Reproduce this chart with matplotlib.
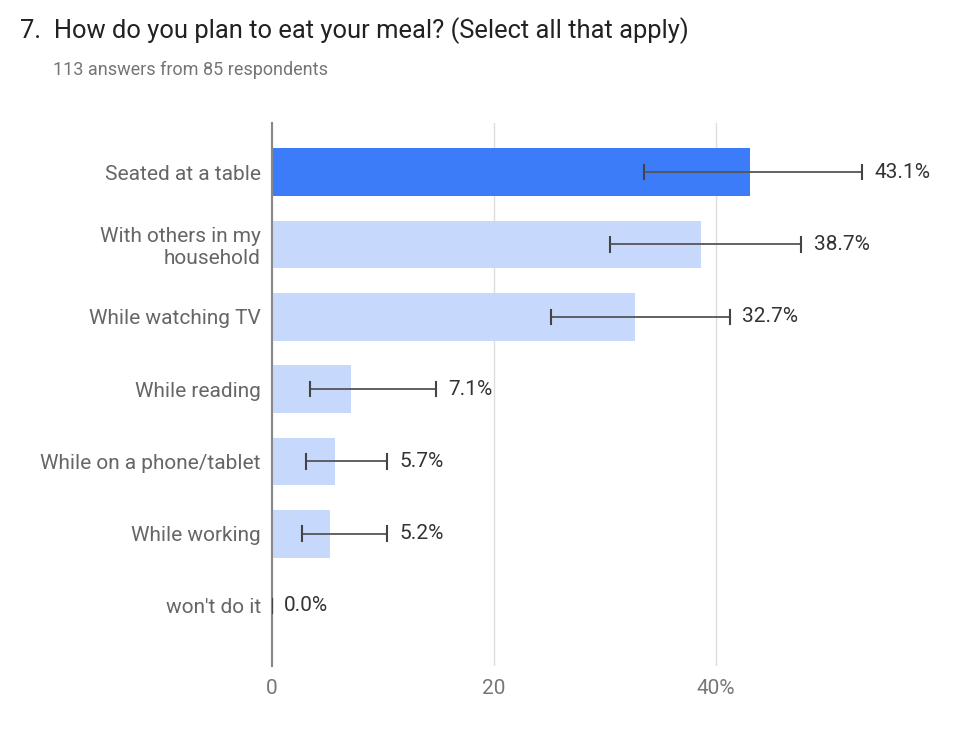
import matplotlib.pyplot as plt

# Survey data (percent of respondents)
categories = ['Seated at a table', 'With others in my\nhousehold', 'While watching TV',
              'While reading', 'While on a phone/tablet', 'While working', "won't do it"]
values = [43.1, 38.7, 32.7, 7.1, 5.7, 5.2, 0.0]
err_low = [33.5, 30.5, 25.1, 3.4, 3.1, 2.7, 0.0]
err_high = [53.2, 47.7, 41.3, 14.8, 10.4, 10.4, 0.0]
labels = ['43.1%', '38.7%', '32.7%', '7.1%', '5.7%', '5.2%', '0.0%']
xticks = [0, 20, 40]
xticklabels = ['0', '20', '40%']

plt.rcParams['font.family'] = ['Roboto', 'DejaVu Sans']

fig = plt.figure(figsize=(9.74, 7.47), dpi=100)
ax = fig.add_axes([272 / 974, 81 / 747, 668 / 974, 543 / 747])

ypos = list(range(len(categories)))
colors = ['#3d7cf9'] + ['#c6d9fc'] * (len(categories) - 1)
ax.barh(ypos, values, height=0.66, color=colors, zorder=2)

# error bars
for y, lo, hi in zip(ypos, err_low, err_high):
    ax.plot([lo, hi], [y, y], color='#555555', lw=1.3, zorder=5)
    for xx in (lo, hi):
        ax.plot([xx, xx], [y - 0.1, y + 0.1], color='#444444', lw=1.5, zorder=5)

for y, v, hi, lab in zip(ypos, values, err_high, labels):
    ax.text(max(v, hi) + 1.1, y, lab, va='center', ha='left', fontsize=15, color='#333333')

ax.set_xlim(0, 60.2)
ax.set_ylim(6.83, -0.68)
ax.set_yticks(ypos)
ax.set_yticklabels(categories, fontsize=15, color='#666666')
ax.set_xticks(xticks)
ax.set_xticklabels(xticklabels, fontsize=15, color='#777777')
ax.tick_params(axis='both', length=0)
ax.tick_params(axis='y', pad=8)
ax.tick_params(axis='x', pad=9)
ax.grid(axis='x', color='#dddddd', lw=1, zorder=0)
for s in ['top', 'right', 'bottom']:
    ax.spines[s].set_visible(False)
ax.spines['left'].set_color('#888888')
ax.spines['left'].set_linewidth(1.5)
ax.spines['left'].set_zorder(4)

fig.text(20 / 974, 1 - 31 / 747, '7.  How do you plan to eat your meal? (Select all that apply)',
         fontsize=18.4, color='#212121', va='center', ha='left')
fig.text(53 / 974, 1 - 70 / 747, '113 answers from 85 respondents',
         fontsize=13, color='#757575', va='center', ha='left')

fig.savefig('out.png', dpi=100)
